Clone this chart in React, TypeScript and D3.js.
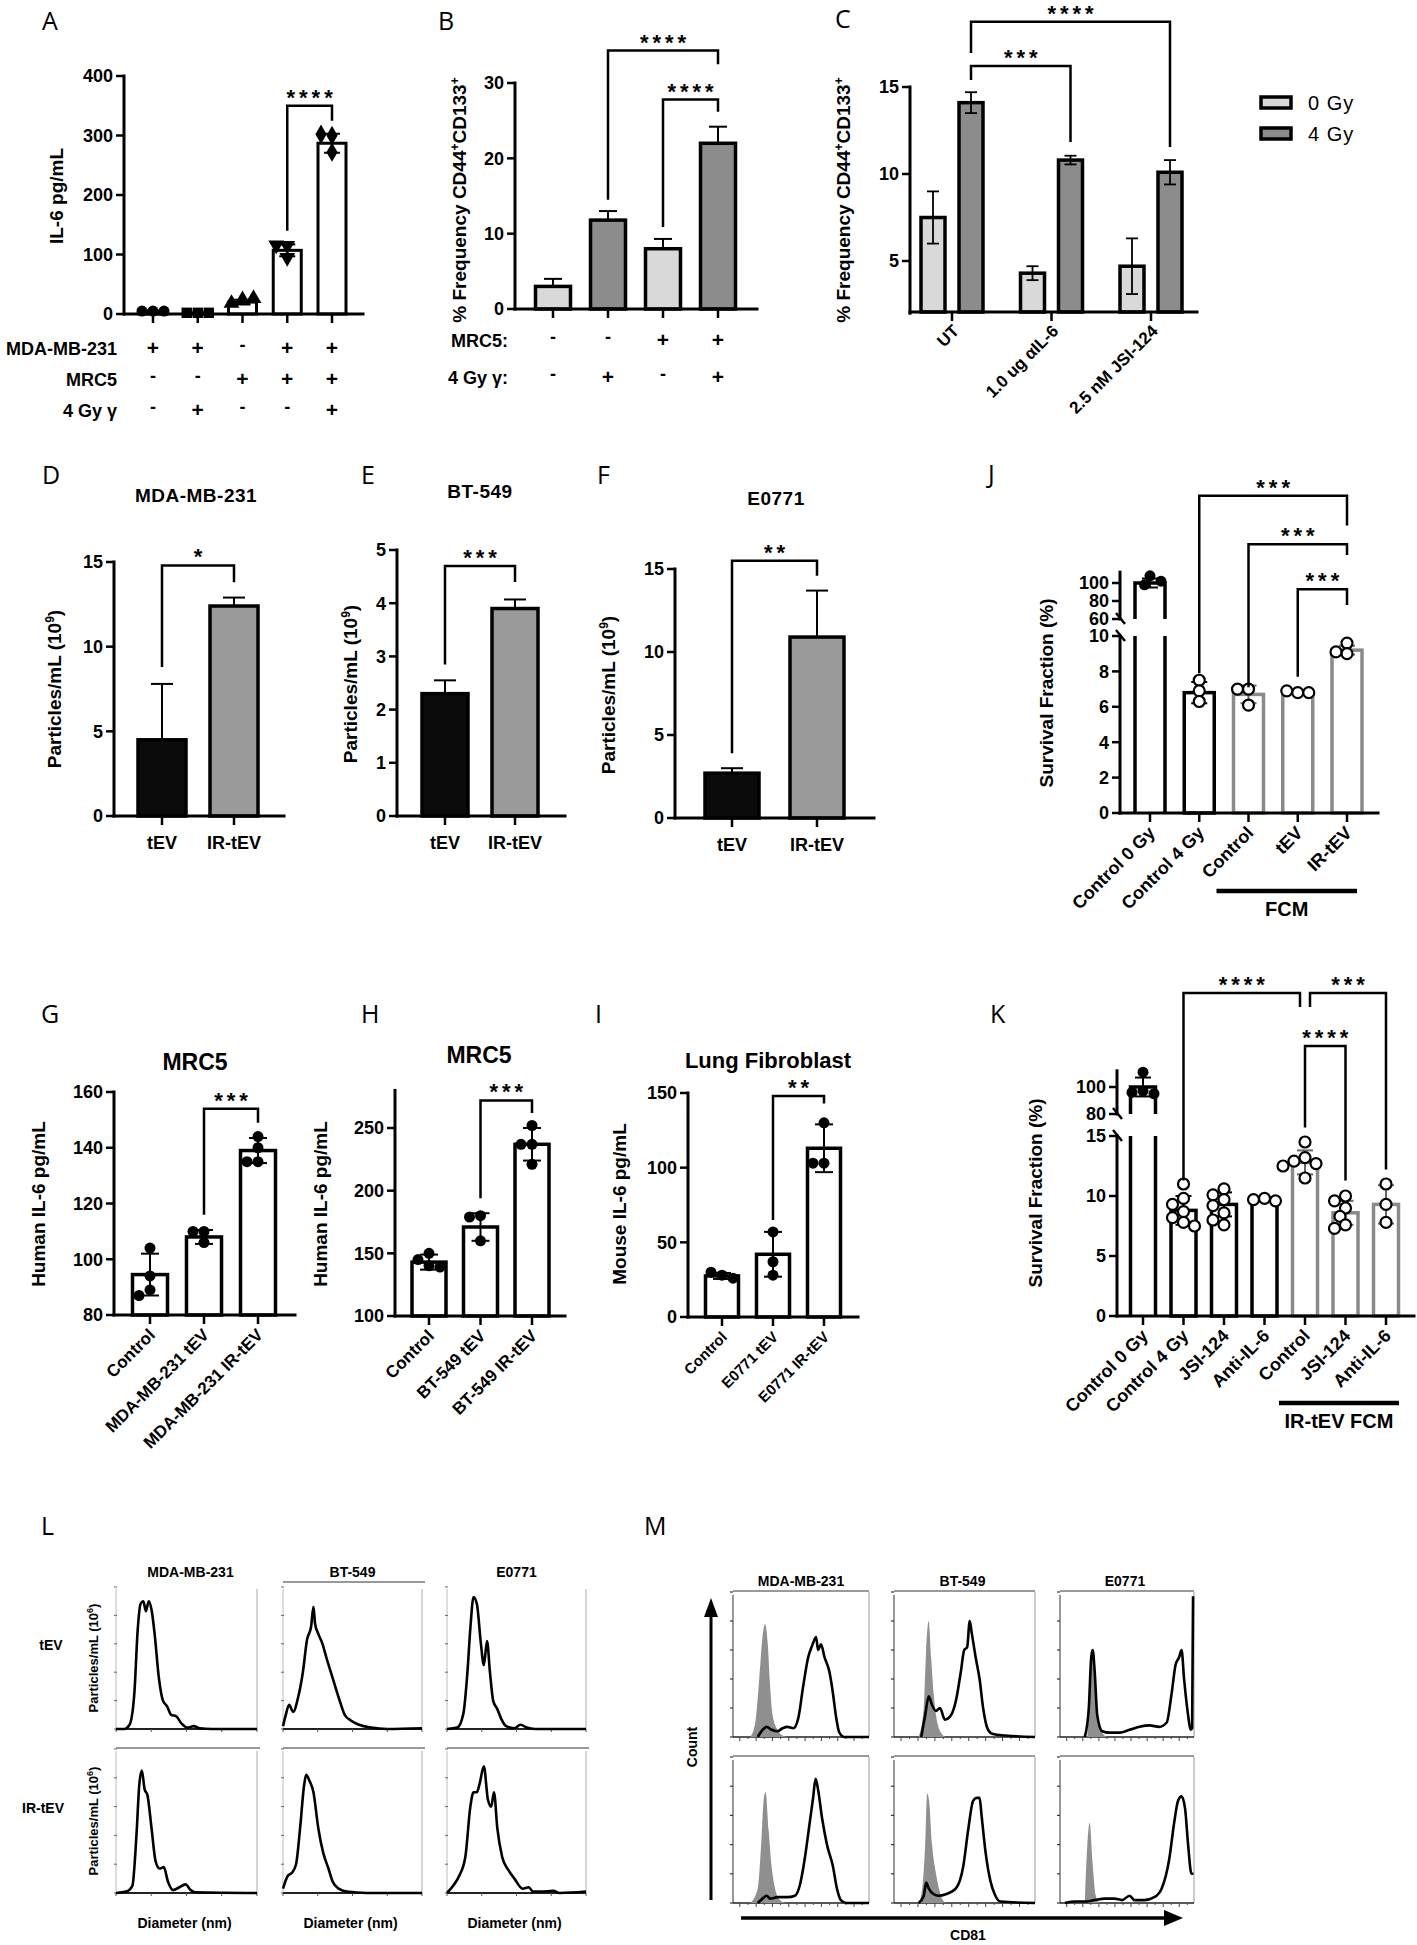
import React from "react";
import * as d3 from "d3";

const W = 1417, H = 1945;
const FONT = "'Liberation Sans', Arial, Helvetica, sans-serif";
const LETTER_FONT = "'Open Sans', 'Noto Sans', sans-serif";
const LIGHT = "#d9d9d9";
const DARK = "#8c8c8c";
const EV_BLACK = "#0b0b0b";
const EV_GREY = "#9a9a9a";
const EDGE_GREY = "#8a8a8a";

// ---------- A: IL-6 ----------
const A_MEANS = [5, 2, 20, 107, 287];
const A_SD = [0, 0, 4, 10, 16];
const A_POINTS = [[5, 5, 5], [2, 2, 2], [24, 18, 26], [115, 95, 116], [300, 272, 302]];
const A_SHAPES = ["circle", "square", "triangle", "triangleDown", "diamond"];
const A_TICKS = [0, 100, 200, 300, 400];
const A_ROW_LABELS = ["MDA-MB-231", "MRC5", "4 Gy γ"];
const A_SIGNS = [["+", "+", "-", "+", "+"], ["-", "-", "+", "+", "+"], ["-", "+", "-", "-", "+"]];
const A_BRACKET = { a: 3, b: 4, y: 350, l: 140, r: 325, label: "****" };

// ---------- B: CD44+CD133+ with MRC5 ----------
const B_MEANS = [3, 11.8, 8, 22];
const B_SD = [1, 1.2, 1.3, 2.2];
const B_DOSE = ["0 Gy", "4 Gy", "0 Gy", "4 Gy"];
const B_TICKS = [0, 10, 20, 30];
const B_ROW_LABELS = ["MRC5:", "4 Gy γ:"];
const B_SIGNS = [["-", "-", "+", "+"], ["-", "+", "-", "+"]];
const B_BRACKETS = [
  { a: 1, b: 3, y: 34.3, l: 14.5, r: 32.5, label: "****" },
  { a: 2, b: 3, y: 27.8, l: 10.9, r: 26.2, label: "****" },
];

// ---------- C: inhibitors ----------
const C_GROUPS = ["UT", "1.0 ug αIL-6", "2.5 nM JSI-124"];
const C_DOSES = ["0 Gy", "4 Gy"];
const C_MEANS = { "0 Gy": [7.5, 4.3, 4.7], "4 Gy": [14.1, 10.8, 10.1] };
const C_SD = { "0 Gy": [1.5, 0.4, 1.6], "4 Gy": [0.6, 0.25, 0.7] };
const C_TICKS = [5, 10, 15];
const C_BRACKETS = [
  { a: 0, b: 1, y: 16.2, l: 15.4, r: 11.84, label: "***" },
  { a: 0, b: 2, y: 18.75, l: 16.95, r: 11.55, label: "****" },
];

// ---------- D/E/F: particle counts ----------
const EV_GROUPS = ["tEV", "IR-tEV"];
const D_MEANS = [4.5, 12.4];
const D_SD = [3.3, 0.5];
const D_TICKS = [0, 5, 10, 15];
const D_BRACKET = { y: 14.8, l: 8.8, r: 13.8, label: "*" };
const E_MEANS = [2.3, 3.9];
const E_SD = [0.25, 0.17];
const E_TICKS = [0, 1, 2, 3, 4, 5];
const E_BRACKET = { y: 4.7, l: 2.85, r: 4.4, label: "***" };
const F_MEANS = [2.7, 10.9];
const F_SD = [0.3, 2.8];
const F_TICKS = [0, 5, 10, 15];
const F_BRACKET = { y: 15.5, l: 3.9, r: 14.6, label: "**" };

// ---------- G/H/I: fibroblast IL-6 ----------
const G_CATS = ["Control", "MDA-MB-231 tEV", "MDA-MB-231 IR-tEV"];
const G_MEANS = [94.5, 108, 139];
const G_SD = [7.5, 2.5, 4.5];
const G_POINTS = [[104, 94, 89, 87], [110, 110, 106], [144, 140, 135, 135]];
const G_TICKS = [80, 100, 120, 140, 160];
const G_BRACKET = { a: 1, b: 2, y: 154, l: 116, r: 149, label: "***" };

const H_CATS = ["Control", "BT-549 tEV", "BT-549 IR-tEV"];
const H_MEANS = [143, 171, 237];
const H_SD = [6, 11, 13];
const H_POINTS = [[150, 145, 140, 139], [180, 179, 160], [252, 237, 237, 221]];
const H_TICKS = [100, 150, 200, 250];
const H_BRACKET = { a: 1, b: 2, y: 272, l: 194, r: 262, label: "***" };

const I_CATS = ["Control", "E0771 tEV", "E0771 IR-tEV"];
const I_MEANS = [27.5, 42, 113];
const I_SD = [2, 15, 16];
const I_POINTS = [[28, 30, 26], [57, 37, 28], [130, 103, 103]];
const I_TICKS = [0, 50, 100, 150];
const I_BRACKET = { a: 1, b: 2, y: 148, l: 65, r: 143, label: "**" };

// ---------- J/K: survival fraction ----------
const J_CATS = ["Control 0 Gy", "Control 4 Gy", "Control", "tEV", "IR-tEV"];
const J_MEANS = [100, 6.8, 6.7, 6.85, 9.2];
const J_SD = [5, 0.6, 0.5, 0.1, 0.25];
const J_POINTS = [[108, 98, 102], [7.5, 6.9, 6.3], [7.0, 7.0, 6.1], [6.8, 6.9, 6.8], [9.6, 9.0, 9.1]];
const J_FCM = [false, false, true, true, true];
const J_LOW_TICKS = [0, 2, 4, 6, 8, 10];
const J_UP_TICKS = [60, 80, 100];
const J_BRACKETS = [
  { a: 1, b: 4, y: 197, l: 7.9, r: 164, label: "***" },
  { a: 2, b: 4, y: 143, l: 7.1, r: 131, label: "***" },
  { a: 3, b: 4, y: 93, l: 7.7, r: 75.6, label: "***" },
];

const K_CATS = ["Control 0 Gy", "Control 4 Gy", "JSI-124", "Anti-IL-6", "Control", "JSI-124", "Anti-IL-6"];
const K_MEANS = [100, 8.8, 9.3, 9.7, 12.8, 8.6, 9.3];
const K_SD = [7, 1.2, 1.0, 0.15, 1.0, 1.0, 1.6];
const K_POINTS = [
  [111, 97, 96, 95],
  [11, 9.8, 9.3, 8.7, 8.2, 7.8, 7.5],
  [10.6, 10.1, 9.7, 9.2, 8.6, 8.0, 7.6],
  [9.8, 9.7, 9.6],
  [14.5, 13.2, 12.9, 12.7, 12.5, 11.5],
  [10.0, 9.6, 9.0, 8.3, 7.6, 7.3],
  [11.0, 9.3, 7.8],
];
const K_FCM = [false, false, false, false, true, true, true];
const K_LOW_TICKS = [0, 5, 10, 15];
const K_UP_TICKS = [80, 100];
const K_BRACKETS = [
  { a: 1, b: 4, y: 169.6, l: 11.3, r: 159.3, label: "****" },
  { a: 4, b: 6, y: 169.6, l: 159.3, r: 12.2, label: "***" },
  { a: 4, b: 5, y: 130.4, l: 15.7, r: 11.3, label: "****" },
];

// ---------- L: NTA size distributions (diameter nm, relative count) ----------
const L_LINES = ["MDA-MB-231", "BT-549", "E0771"];
const L_MDA_TEV = [[0, 0], [58, 0], [96, 3], [130, 25], [154, 70], [174, 88], [194, 90], [212, 83], [232, 90], [252, 84], [275, 66], [304, 36], [333, 20], [362, 16], [391, 10], [426, 9], [464, 4], [507, 1], [551, 2], [594, 0.5], [681, 0], [1000, 0]];
const L_BT_TEV = [[0, 2], [20, 10], [44, 17], [73, 12], [108, 22], [143, 40], [173, 63], [202, 72], [219, 86], [231, 74], [254, 67], [284, 60], [313, 50], [357, 36], [401, 22], [444, 10], [488, 6], [547, 3], [635, 1], [751, 0], [1000, 0.5]];
const L_E_TEV = [[0, 0], [74, 1], [118, 11], [147, 40], [168, 71], [191, 93], [215, 88], [244, 60], [265, 45], [288, 62], [309, 40], [332, 20], [362, 14], [391, 7], [426, 2], [485, 0.5], [529, 3], [574, 1], [632, 0], [1000, 0]];
const L_MDA_IR = [[0, 0], [72, 1], [116, 5], [145, 40], [165, 75], [183, 85], [203, 72], [223, 68], [252, 45], [281, 22], [310, 17], [339, 18], [368, 8], [406, 2], [449, 4], [493, 6], [530, 2], [565, 0.5], [1000, 0]];
const L_BT_IR = [[0, 3], [35, 12], [64, 14], [94, 20], [123, 45], [152, 75], [167, 82], [190, 78], [219, 70], [254, 45], [289, 28], [327, 17], [357, 8], [401, 3], [459, 1], [605, 0], [1000, 0]];
const L_E_IR = [[0, 0], [44, 5], [88, 12], [132, 25], [168, 60], [191, 70], [215, 70], [235, 76], [265, 88], [294, 65], [318, 60], [338, 70], [362, 45], [397, 25], [441, 16], [485, 10], [544, 3], [588, 4], [618, 1], [676, 1], [765, 1.5], [809, 0], [1000, 1]];

// ---------- M: CD81 flow histograms (% of axis, % of max) ----------
const M_MDA_TEV_ISO = [[12.7, 0], [16.4, 10], [19.3, 40], [21.8, 70], [23.6, 78], [25.5, 65], [27.3, 35], [29.1, 15], [32.7, 5], [36.4, 1], [40, 0]];
const M_MDA_TEV = [[18.2, 0], [21.8, 5], [24.7, 7], [28.4, 5], [32.7, 4], [36.4, 6], [40, 7], [44.4, 6], [48, 13], [51.6, 35], [55.3, 55], [58.2, 63], [61.1, 69], [62.5, 60], [64.7, 64], [67.3, 55], [70.9, 45], [73.5, 30], [75.6, 15], [78.2, 3], [81.8, 0], [100, 0]];
const M_BT_TEV_ISO = [[17.5, 0], [21.1, 20], [22.8, 60], [24.6, 80], [26.3, 55], [28.1, 30], [29.8, 15], [33.3, 3], [36.8, 0]];
const M_BT_TEV = [[19.3, 0], [22.1, 15], [24.6, 28], [27, 22], [29.8, 18], [32.6, 20], [36.1, 12], [40.4, 15], [43.9, 25], [47.4, 45], [49.8, 60], [51.9, 62], [53.7, 80], [55.1, 72], [57.9, 55], [60.7, 40], [63.2, 20], [66.7, 5], [70.2, 2], [78.9, 1], [100, 0]];
const M_E_TEV_ISO = [[20.4, 0], [22.2, 30], [24.1, 55], [25.2, 58], [26.7, 30], [28.9, 10], [31.5, 3], [35.2, 0]];
const M_E_TEV = [[18.5, 0], [21.5, 20], [23.3, 55], [24.4, 60], [25.9, 45], [27.8, 15], [31.5, 4], [37, 3], [44.4, 3], [51.9, 5], [59.3, 7], [66.7, 8], [74.1, 7], [79.6, 10], [83.3, 30], [86.3, 50], [88.9, 55], [90.7, 60], [92.6, 40], [95.6, 15], [97.4, 5], [98.6, 6], [99.3, 97]];
const M_MDA_IR_ISO = [[12.7, 0], [18.2, 10], [20.7, 40], [22.5, 70], [24, 76], [26.2, 50], [28.4, 25], [30.9, 10], [34.5, 2], [38.2, 0]];
const M_MDA_IR = [[18.2, 0], [21.8, 3], [24.7, 5], [27.3, 3], [32.7, 4], [40, 4], [45.5, 5], [49.1, 12], [52.7, 30], [56.4, 55], [58.9, 72], [60.7, 85], [62.5, 78], [65.5, 58], [69.1, 40], [73.5, 25], [76.4, 10], [79.3, 2], [83.6, 0], [100, 0]];
const M_BT_IR_ISO = [[17.5, 0], [20, 10], [22.1, 40], [23.5, 75], [24.9, 70], [27, 40], [29.8, 20], [33.3, 5], [36.8, 0]];
const M_BT_IR = [[17.5, 0], [21.1, 5], [22.8, 14], [24.6, 10], [28.1, 6], [31.6, 5], [36.8, 6], [43.9, 10], [49.1, 25], [52.6, 50], [56.1, 70], [58.6, 72], [60.7, 72], [62.1, 60], [64.9, 35], [68.4, 15], [71.9, 5], [75.4, 1], [100, 0]];
const M_E_IR_ISO = [[18.5, 0], [20.4, 40], [22.2, 55], [24.1, 30], [26.7, 5], [29.6, 0]];
const M_E_IR = [[3.7, 0], [11.1, 1], [18.5, 1], [25.9, 2], [33.3, 3], [40.7, 3], [46.3, 2], [51.9, 5], [55.6, 2], [63, 2], [70.4, 4], [75.9, 10], [81.5, 30], [85.2, 55], [88.1, 70], [90.7, 73], [93.3, 65], [95.6, 40], [98.1, 20], [99.6, 20]];

// ================= helpers =================
function swarm(py: number[], r: number): number[] {
  const placed: number[][] = [];
  return py.map((yy) => {
    for (let k = 0; k < 16; k++) {
      const dx = k === 0 ? 0 : (k % 2 ? -1 : 1) * Math.ceil(k / 2) * r;
      if (placed.every((p) => Math.hypot(p[0] - dx, p[1] - yy) >= 1.8 * r)) {
        placed.push([dx, yy]);
        return dx;
      }
    }
    return 0;
  });
}

const bold = { fontFamily: FONT, fontWeight: "bold" as const };

function Letter({ x, y, t }: any) {
  return <text x={x} y={y} fontSize={25} fontFamily={LETTER_FONT} fontWeight={400}>{t}</text>;
}

function YAxis({ x, y, ticks, from, to, fs = 18, tl = 8 }: any) {
  return (
    <g>
      <line x1={x} x2={x} y1={y(from)} y2={y(to)} stroke="#000" strokeWidth={3} strokeLinecap="square" />
      {ticks.map((t: number) => (
        <g key={t}>
          <line x1={x - tl} x2={x} y1={y(t)} y2={y(t)} stroke="#000" strokeWidth={2.5} />
          <text x={x - tl - 3} y={y(t)} dy="0.36em" textAnchor="end" fontSize={fs} {...bold}>{t}</text>
        </g>
      ))}
    </g>
  );
}

function XAxis({ x1, x2, y, ticks, tl = 9 }: any) {
  return (
    <g>
      <line x1={x1} x2={x2} y1={y} y2={y} stroke="#000" strokeWidth={3} strokeLinecap="square" />
      {ticks.map((t: number, i: number) => (
        <line key={i} x1={t} x2={t} y1={y} y2={y + tl} stroke="#000" strokeWidth={2.5} />
      ))}
    </g>
  );
}

function Bar({ cx, w, y0, y1, fill, stroke = "#000", sw = 3 }: any) {
  return <rect x={cx - w / 2} y={Math.min(y0, y1)} width={w} height={Math.abs(y0 - y1)} fill={fill} stroke={stroke} strokeWidth={sw} />;
}

function ErrorBar({ cx, yLo, yHi, cap = 14, sw = 2, lowCap = true, stroke = "#000" }: any) {
  return (
    <g stroke={stroke} strokeWidth={sw}>
      <line x1={cx} x2={cx} y1={yLo} y2={yHi} />
      <line x1={cx - cap / 2} x2={cx + cap / 2} y1={yHi} y2={yHi} />
      {lowCap && <line x1={cx - cap / 2} x2={cx + cap / 2} y1={yLo} y2={yLo} />}
    </g>
  );
}

function Dots({ cx, values, y, r = 5, shape = "circle", filled = true }: any) {
  const py = values.map((v: number) => y(v));
  const dx = swarm(py, r);
  const symType: any = {
    square: d3.symbolSquare, triangle: d3.symbolTriangle, triangleDown: d3.symbolTriangle, diamond: d3.symbolDiamond,
  }[shape as string];
  return (
    <g>
      {py.map((yy: number, i: number) => {
        if (shape === "circle")
          return <circle key={i} cx={cx + dx[i]} cy={yy} r={r} fill={filled ? "#000" : "#fff"} stroke="#000" strokeWidth={filled ? 0 : 2.2} />;
        const path = d3.symbol().type(symType).size(r * r * 3.6)() as string;
        const rot = shape === "triangleDown" ? 180 : 0;
        return <path key={i} d={path} transform={`translate(${cx + dx[i]},${yy}) rotate(${rot})`} fill="#000" />;
      })}
    </g>
  );
}

function Bracket({ x1, x2, y, yl, yr, label, fs = 22 }: any) {
  return (
    <g>
      <path d={`M${x1},${yl}V${y}H${x2}V${yr}`} fill="none" stroke="#000" strokeWidth={2.5} />
      <text x={(x1 + x2) / 2 + 2} y={y - 1} textAnchor="middle" fontSize={fs} letterSpacing={4} {...bold}>{label}</text>
    </g>
  );
}

function RotLabel({ x, y, text, fs = 17 }: any) {
  return (
    <text transform={`translate(${x},${y}) rotate(-45)`} textAnchor="end" fontSize={fs} {...bold}>{text}</text>
  );
}

function VLabel({ x, y, fs = 19, children }: any) {
  return (
    <text transform={`translate(${x},${y}) rotate(-90)`} textAnchor="middle" fontSize={fs} {...bold}>{children}</text>
  );
}

const Sup = ({ c, fs = 12 }: any) => <tspan baselineShift="super" fontSize={fs}>{c}</tspan>;

// ================= panels =================
function PanelA() {
  const x = d3.scalePoint<number>().domain(d3.range(A_MEANS.length)).range([153, 332]);
  const y = d3.scaleLinear().domain([0, 400]).range([314, 76]);
  const base = y(0);
  const xs = A_MEANS.map((_, i) => x(i) as number);
  const b = A_BRACKET;
  return (
    <g>
      <Letter x={42} y={30} t="A" />
      <VLabel x={63} y={196}>IL-6 pg/mL</VLabel>
      {A_MEANS.map((m, i) => <Bar key={i} cx={xs[i]} w={28} y0={base} y1={y(m)} fill="#fff" />)}
      <YAxis x={124} y={y} ticks={A_TICKS} from={0} to={400} />
      <XAxis x1={124} x2={363} y={base} ticks={xs} />
      {A_MEANS.map((m, i) =>
        A_SD[i] > 0 ? <ErrorBar key={i} cx={xs[i]} yLo={y(m - A_SD[i])} yHi={y(m + A_SD[i])} cap={16} /> : null
      )}
      {A_POINTS.map((p, i) => <Dots key={i} cx={xs[i]} values={p} y={y} r={5.5} shape={A_SHAPES[i]} />)}
      <Bracket x1={xs[b.a]} x2={xs[b.b]} y={y(b.y)} yl={y(b.l)} yr={y(b.r)} label={b.label} />
      {A_ROW_LABELS.map((lab, r) => (
        <g key={lab}>
          <text x={117} y={355 + r * 31} textAnchor="end" fontSize={18} {...bold}>{lab}</text>
          {A_SIGNS[r].map((s, i) => (
            <text key={i} x={xs[i]} y={355 + r * 31 - (s === "-" ? 4 : 0)} textAnchor="middle" fontSize={s === "-" ? 18 : 21} {...bold}>{s}</text>
          ))}
        </g>
      ))}
    </g>
  );
}

function PanelB() {
  const x = d3.scalePoint<number>().domain(d3.range(B_MEANS.length)).range([553, 718]);
  const y = d3.scaleLinear().domain([0, 30]).range([309, 83]);
  const fill = d3.scaleOrdinal<string, string>().domain(["0 Gy", "4 Gy"]).range([LIGHT, DARK]);
  const xs = B_MEANS.map((_, i) => x(i) as number);
  const base = y(0);
  return (
    <g>
      <Letter x={438} y={30} t="B" />
      <VLabel x={466} y={200} fs={19}>
        % Frequency CD44<Sup c="+" />CD133<Sup c="+" />
      </VLabel>
      {B_MEANS.map((m, i) => (
        <g key={i}>
          <ErrorBar cx={xs[i]} yLo={y(m)} yHi={y(m + B_SD[i])} cap={18} lowCap={false} />
          <Bar cx={xs[i]} w={35} y0={base} y1={y(m)} fill={fill(B_DOSE[i])} sw={3.5} />
        </g>
      ))}
      <YAxis x={515} y={y} ticks={B_TICKS} from={0} to={30} />
      <XAxis x1={515} x2={757} y={base} ticks={xs} />
      {B_BRACKETS.map((b, i) => (
        <Bracket key={i} x1={xs[b.a]} x2={xs[b.b]} y={y(b.y)} yl={y(b.l)} yr={y(b.r)} label={b.label} />
      ))}
      {B_ROW_LABELS.map((lab, r) => (
        <g key={lab}>
          <text x={508} y={347 + r * 37} textAnchor="end" fontSize={18} {...bold}>{lab}</text>
          {B_SIGNS[r].map((s, i) => (
            <text key={i} x={xs[i]} y={347 + r * 37 - (s === "-" ? 4 : 0)} textAnchor="middle" fontSize={s === "-" ? 18 : 21} {...bold}>{s}</text>
          ))}
        </g>
      ))}
    </g>
  );
}

function PanelC() {
  const gx = d3.scalePoint<string>().domain(C_GROUPS).range([952, 1151]);
  const inner = d3.scalePoint<string>().domain(C_DOSES).range([-19, 19]);
  const fill = d3.scaleOrdinal<string, string>().domain(C_DOSES).range([LIGHT, DARK]);
  const y = d3.scaleLinear().domain([2, 15]).range([313.2, 87]);
  const base = 312;
  const bx = (g: number, d: string) => (gx(C_GROUPS[g]) as number) + (inner(d) as number);
  return (
    <g>
      <Letter x={835} y={28} t="C" />
      <VLabel x={850} y={200} fs={19}>
        % Frequency CD44<Sup c="+" />CD133<Sup c="+" />
      </VLabel>
      {C_DOSES.map((d) =>
        C_GROUPS.map((g, i) => {
          const m = (C_MEANS as any)[d][i];
          const s = (C_SD as any)[d][i];
          return (
            <g key={d + g}>
              <Bar cx={bx(i, d)} w={24} y0={base} y1={y(m)} fill={fill(d)} sw={3.5} />
              <ErrorBar cx={bx(i, d)} yLo={y(m - s)} yHi={y(m + s)} cap={12} sw={1.8} />
            </g>
          );
        })
      )}
      <YAxis x={910} y={y} ticks={C_TICKS} from={2} to={15} />
      <XAxis x1={910} x2={1197} y={base} ticks={C_GROUPS.map((g) => gx(g) as number)} />
      {C_BRACKETS.map((b, i) => (
        <Bracket key={i} x1={bx(b.a, "4 Gy")} x2={bx(b.b, "4 Gy")} y={y(b.y)} yl={y(b.l)} yr={y(b.r)} label={b.label} />
      ))}
      {C_GROUPS.map((g) => (
        <RotLabel key={g} x={(gx(g) as number) + 8} y={332} text={g} fs={17} />
      ))}
      {C_DOSES.map((d, i) => (
        <g key={d}>
          <rect x={1261} y={97 + i * 31} width={30} height={11} fill={fill(d)} stroke="#000" strokeWidth={3.5} />
          <text x={1308} y={110 + i * 31} fontSize={20} fontFamily={FONT} letterSpacing={1}>{d}</text>
        </g>
      ))}
    </g>
  );
}

function EVPanel({ letter, lx, title, tx, ty, ax, aEnd, yMax, base, top, ticks, centers, bw, means, sd, br, ylx, yly }: any) {
  const x = d3.scalePoint<string>().domain(EV_GROUPS).range(centers);
  const y = d3.scaleLinear().domain([0, yMax]).range([base, top]);
  const fill = d3.scaleOrdinal<string, string>().domain(EV_GROUPS).range([EV_BLACK, EV_GREY]);
  const xs = EV_GROUPS.map((g) => x(g) as number);
  return (
    <g>
      <Letter x={lx} y={484} t={letter} />
      <text x={tx} y={ty} textAnchor="middle" fontSize={19} letterSpacing={0.5} {...bold}>{title}</text>
      <VLabel x={ylx} y={yly} fs={19}>
        Particles/mL (10<Sup c="9" />)
      </VLabel>
      {means.map((m: number, i: number) => (
        <g key={i}>
          <ErrorBar cx={xs[i]} yLo={y(m)} yHi={y(m + sd[i])} cap={22} lowCap={false} />
          <Bar cx={xs[i]} w={bw} y0={base} y1={y(m)} fill={fill(EV_GROUPS[i])} sw={3.5} />
        </g>
      ))}
      <YAxis x={ax} y={y} ticks={ticks} from={0} to={yMax} />
      <XAxis x1={ax} x2={aEnd} y={base} ticks={xs} />
      <Bracket x1={xs[0]} x2={xs[1]} y={y(br.y)} yl={y(br.l)} yr={y(br.r)} label={br.label} />
      {EV_GROUPS.map((g, i) => (
        <text key={g} x={xs[i]} y={base + 33} textAnchor="middle" fontSize={18} {...bold}>{g}</text>
      ))}
    </g>
  );
}

function IL6Panel({ letter, lx, title, tx, ty, tfs, ax, aEnd, dom, range, ticks, centers, bw, cats, means, sd, points, br, ylabel, ylx, lfs, lx0 = 6 }: any) {
  const x = d3.scalePoint<string>().domain(cats).range(centers);
  const y = d3.scaleLinear().domain(dom).range(range);
  const xs = cats.map((c: string) => x(c) as number);
  const base = y(dom[0]);
  return (
    <g>
      <Letter x={lx} y={1023} t={letter} />
      <text x={tx} y={ty} textAnchor="middle" fontSize={tfs} {...bold}>{title}</text>
      <VLabel x={ylx} y={1204} fs={19}>{ylabel}</VLabel>
      {means.map((m: number, i: number) => (
        <Bar key={i} cx={xs[i]} w={bw} y0={base} y1={y(m)} fill="#fff" sw={3.5} />
      ))}
      <YAxis x={ax} y={y} ticks={ticks} from={dom[0]} to={dom[1]} />
      <XAxis x1={ax} x2={aEnd} y={base} ticks={xs} />
      {means.map((m: number, i: number) => (
        <ErrorBar key={i} cx={xs[i]} yLo={y(m - sd[i])} yHi={y(m + sd[i])} cap={18} />
      ))}
      {points.map((p: number[], i: number) => <Dots key={i} cx={xs[i]} values={p} y={y} r={5.5} />)}
      <Bracket x1={xs[br.a]} x2={xs[br.b]} y={y(br.y)} yl={y(br.l)} yr={y(br.r)} label={br.label} />
      {cats.map((c: string, i: number) => (
        <RotLabel key={c} x={xs[i] + lx0} y={base + 21} text={c} fs={lfs} />
      ))}
    </g>
  );
}

function SurvivalPanel({ letter, lx, ax, aEnd, base, lowMax, lowTop, upMin, upBot, upMax, upTop, lowTicks, upTicks, centers, bw, cats, means, sd, points, fcm, brackets, nudges, ylx, yly, under }: any) {
  const lower = d3.scaleLinear().domain([0, lowMax]).range([base, lowTop]);
  const upper = d3.scaleLinear().domain([upMin, upMax]).range([upBot, upTop]);
  const y = (v: number) => (v > lowMax && v >= upMin ? upper(v) : lower(v));
  const x = d3.scalePoint<number>().domain(d3.range(cats.length)).range(centers);
  const xs = cats.map((_: string, i: number) => x(i) as number);
  const edge = (i: number) => (fcm[i] ? EDGE_GREY : "#000");
  const slash = (yy: number) => (
    <line x1={ax - 4} y1={yy - 6} x2={ax + 5} y2={yy + 5} stroke="#000" strokeWidth={2.5} />
  );
  return (
    <g>
      <Letter x={lx} y={letter === "J" ? 483 : 1023} t={letter} />
      <VLabel x={ylx} y={yly} fs={19}>Survival Fraction (%)</VLabel>
      {means.map((m: number, i: number) => {
        const l = xs[i] - bw / 2, r = xs[i] + bw / 2;
        if (m > lowMax) {
          return (
            <g key={i} fill="none" stroke={edge(i)} strokeWidth={3.5}>
              <path d={`M${l},${base}V${lower(lowMax)}M${r},${base}V${lower(lowMax)}`} />
              <path d={`M${l},${upper(upMin)}V${upper(m)}H${r}V${upper(upMin)}`} />
            </g>
          );
        }
        return <Bar key={i} cx={xs[i]} w={bw} y0={base} y1={y(m)} fill="#fff" stroke={edge(i)} sw={3.5} />;
      })}
      <YAxis x={ax} y={lower} ticks={lowTicks} from={0} to={lowMax} />
      <YAxis x={ax} y={upper} ticks={upTicks} from={upMin} to={upMax} />
      {slash(lower(lowMax))}
      {slash(upper(upMin))}
      <XAxis x1={ax} x2={aEnd} y={base} ticks={xs} />
      {means.map((m: number, i: number) => (
        <ErrorBar key={i} cx={xs[i]} yLo={y(m - sd[i])} yHi={y(m + sd[i])} cap={16} stroke={fcm[i] ? "#666" : "#000"} />
      ))}
      {points.map((p: number[], i: number) => (
        <Dots key={i} cx={xs[i]} values={p} y={y} r={5.5} filled={i === 0} />
      ))}
      {brackets.map((b: any, i: number) => (
        <Bracket key={i} x1={xs[b.a] + nudges[i][0]} x2={xs[b.b] + nudges[i][1]} y={y(b.y)} yl={y(b.l)} yr={y(b.r)} label={b.label} />
      ))}
      {cats.map((c: string, i: number) => (
        <RotLabel key={i} x={xs[i] + 6} y={base + 21} text={c} fs={18} />
      ))}
      <line x1={xs[under.from] + under.dx0} x2={xs[under.to] + under.dx1} y1={under.y} y2={under.y} stroke="#000" strokeWidth={4.5} />
      <text x={(xs[under.from] + under.dx0 + xs[under.to] + under.dx1) / 2} y={under.y + 25} textAnchor="middle" fontSize={20} {...bold}>{under.label}</text>
    </g>
  );
}

function PanelL() {
  const cols = [[116, 257], [283, 422], [447, 586]];
  const rows = [[1587, 1729], [1749, 1893]];
  const curves = [[L_MDA_TEV, L_BT_TEV, L_E_TEV], [L_MDA_IR, L_BT_IR, L_E_IR]];
  const rowLabels = ["tEV", "IR-tEV"];
  return (
    <g>
      <Letter x={41} y={1535} t="L" />
      {L_LINES.map((t, c) => (
        <text key={t} x={(cols[c][0] + cols[c][1]) / 2 + (c === 0 ? 4 : 0)} y={1577} textAnchor="middle" fontSize={14} {...bold}>{t}</text>
      ))}
      {rows.map((rw, r) => (
        <g key={r}>
          <text x={r === 0 ? 51 : 43} y={(rw[0] + rw[1]) / 2 - 8} textAnchor="middle" fontSize={14} {...bold}>{rowLabels[r]}</text>
          <VLabel x={98} y={(rw[0] + rw[1]) / 2} fs={13}>
            Particles/mL (10<Sup c="6" fs={9} />)
          </VLabel>
          {cols.map((cl, c) => {
            const x = d3.scaleLinear().domain([0, 1000]).range(cl);
            const y = d3.scaleLinear().domain([0, 100]).range([rw[1], rw[0]]);
            const line = d3.line<number[]>().x((d) => x(d[0])).y((d) => y(d[1])).curve(d3.curveMonotoneX);
            const showTop = r === 1 || c === 1;
            return (
              <g key={c}>
                {showTop && <line x1={cl[0]} x2={cl[1] + 3} y1={rw[0] - (r === 0 ? 5 : 1)} y2={rw[0] - (r === 0 ? 5 : 1)} stroke="#777" strokeWidth={1.6} />}
                <line x1={cl[1]} x2={cl[1]} y1={rw[0] + 2} y2={rw[1]} stroke="#aaa" strokeWidth={1} />
                <line x1={cl[0]} x2={cl[0]} y1={rw[0] + 2} y2={rw[1]} stroke="#bbb" strokeWidth={1} />
                {d3.range(0, 101, 20).map((v) => (
                  <line key={v} x1={cl[0] - 2} x2={cl[0] + 1} y1={y(v)} y2={y(v)} stroke="#666" strokeWidth={1} />
                ))}
                <line x1={cl[0]} x2={cl[1]} y1={rw[1]} y2={rw[1]} stroke="#222" strokeWidth={1.8} />
                {d3.range(0, 1001, 250).map((v) => (
                  <line key={v} x1={x(v)} x2={x(v)} y1={rw[1]} y2={rw[1] + 3} stroke="#555" strokeWidth={1} />
                ))}
                <path d={line(curves[r][c] as any) as string} fill="none" stroke="#000" strokeWidth={2.6} strokeLinejoin="round" />
              </g>
            );
          })}
        </g>
      ))}
      {cols.map((cl, c) => (
        <text key={c} x={(cl[0] + cl[1]) / 2 - 2} y={1928} textAnchor="middle" fontSize={14} {...bold}>Diameter (nm)</text>
      ))}
    </g>
  );
}

function PanelM() {
  const cols = [[733, 869], [894, 1035], [1060, 1194]];
  const rows = [[1592, 1737], [1757, 1903]];
  const iso = [[M_MDA_TEV_ISO, M_BT_TEV_ISO, M_E_TEV_ISO], [M_MDA_IR_ISO, M_BT_IR_ISO, M_E_IR_ISO]];
  const pos = [[M_MDA_TEV, M_BT_TEV, M_E_TEV], [M_MDA_IR, M_BT_IR, M_E_IR]];
  return (
    <g>
      <Letter x={644} y={1535} t="M" />
      {L_LINES.map((t, c) => (
        <text key={t} x={(cols[c][0] + cols[c][1]) / 2 + (c === 0 ? 0 : -2)} y={1586} textAnchor="middle" fontSize={14} {...bold}>{t}</text>
      ))}
      {rows.map((rw, r) =>
        cols.map((cl, c) => {
          const x = d3.scaleLinear().domain([0, 100]).range(cl);
          const y = d3.scaleLinear().domain([0, 100]).range([rw[1], rw[0]]);
          const line = d3.line<number[]>().x((d) => x(d[0])).y((d) => y(d[1])).curve(d3.curveMonotoneX);
          const area = d3.area<number[]>().x((d) => x(d[0])).y0(y(0)).y1((d) => y(d[1])).curve(d3.curveMonotoneX);
          return (
            <g key={`${r}-${c}`}>
              <line x1={cl[0]} x2={cl[1]} y1={rw[0] - 1} y2={rw[0] - 1} stroke="#777" strokeWidth={1.6} />
              <line x1={cl[1]} x2={cl[1]} y1={rw[0]} y2={rw[1]} stroke="#999" strokeWidth={1} />
              <line x1={cl[0]} x2={cl[0]} y1={rw[0] + 3} y2={rw[1]} stroke="#333" strokeWidth={1} />
              {d3.range(0, 101, 20).map((v) => (
                <line key={v} x1={cl[0] - 3} x2={cl[0]} y1={y(v)} y2={y(v)} stroke="#333" strokeWidth={1.2} />
              ))}
              <line x1={cl[0]} x2={cl[1]} y1={rw[1]} y2={rw[1]} stroke="#222" strokeWidth={1.4} />
              {d3.range(5, 100, 6).map((v) => (
                <line key={v} x1={x(v)} x2={x(v)} y1={rw[1]} y2={rw[1] + (v % 4 === 1 ? 4 : 2)} stroke="#444" strokeWidth={1} />
              ))}
              <path d={area(iso[r][c] as any) as string} fill="#8f8f8f" />
              <path d={line(pos[r][c] as any) as string} fill="none" stroke="#000" strokeWidth={2.6} strokeLinejoin="round" />
            </g>
          );
        })
      )}
      <line x1={711} x2={711} y1={1900} y2={1612} stroke="#000" strokeWidth={3} />
      <polygon points="711,1598 704,1617 718,1617" fill="#000" />
      <VLabel x={697} y={1747} fs={14}>Count</VLabel>
      <line x1={741} x2={1166} y1={1918} y2={1918} stroke="#000" strokeWidth={3.5} />
      <polygon points="1183,1918 1164,1910 1164,1926" fill="#000" />
      <text x={968} y={1940} textAnchor="middle" fontSize={14} {...bold}>CD81</text>
    </g>
  );
}

export default function App() {
  return (
    <svg width={W} height={H} viewBox={`0 0 ${W} ${H}`} style={{ position: "absolute", left: 0, top: 0, display: "block" }}>
      <rect width={W} height={H} fill="#fff" />
      <PanelA />
      <PanelB />
      <PanelC />
      <EVPanel letter="D" lx={42} title="MDA-MB-231" tx={196} ty={502} ax={114} aEnd={284} yMax={15} base={816} top={562}
        ticks={D_TICKS} centers={[162, 234]} bw={48} means={D_MEANS} sd={D_SD} br={D_BRACKET} ylx={61} yly={689} />
      <EVPanel letter="E" lx={361} title="BT-549" tx={480} ty={498} ax={397} aEnd={565} yMax={5} base={816} top={550}
        ticks={E_TICKS} centers={[445, 515]} bw={46} means={E_MEANS} sd={E_SD} br={E_BRACKET} ylx={357} yly={684} />
      <EVPanel letter="F" lx={597} title="E0771" tx={776} ty={505} ax={675} aEnd={874} yMax={15} base={818} top={569}
        ticks={F_TICKS} centers={[732, 817]} bw={54} means={F_MEANS} sd={F_SD} br={F_BRACKET} ylx={615} yly={695} />
      <SurvivalPanel letter="J" lx={988} ax={1120} aEnd={1378} base={813} lowMax={10} lowTop={636} upMin={60} upBot={619}
        upMax={112} upTop={572.2} lowTicks={J_LOW_TICKS} upTicks={J_UP_TICKS} centers={[1150, 1347]} bw={30}
        cats={J_CATS} means={J_MEANS} sd={J_SD} points={J_POINTS} fcm={J_FCM} brackets={J_BRACKETS}
        nudges={[[0, 0], [0, 0], [0, 0]]} ylx={1053} yly={693}
        under={{ from: 2, to: 4, dx0: -32, dx1: 10, y: 891, label: "FCM" }} />
      <IL6Panel letter="G" lx={41} title="MRC5" tx={195} ty={1070} tfs={23} ax={114} aEnd={295} dom={[80, 160]} range={[1315, 1092]}
        ticks={G_TICKS} centers={[150, 258]} bw={35} cats={G_CATS} means={G_MEANS} sd={G_SD} points={G_POINTS}
        br={G_BRACKET} ylabel="Human IL-6 pg/mL" ylx={45} lfs={17} />
      <IL6Panel letter="H" lx={361} title="MRC5" tx={479} ty={1063} tfs={23} ax={395} aEnd={565} dom={[100, 280]} range={[1316, 1090.4]}
        ticks={H_TICKS} centers={[429, 532]} bw={34} cats={H_CATS} means={H_MEANS} sd={H_SD} points={H_POINTS}
        br={H_BRACKET} ylabel="Human IL-6 pg/mL" ylx={327} lfs={17} />
      <IL6Panel letter="I" lx={595} title="Lung Fibroblast" tx={768} ty={1068} tfs={22} ax={688} aEnd={858} dom={[0, 150]} range={[1317, 1093]}
        ticks={I_TICKS} centers={[722, 824]} bw={33} cats={I_CATS} means={I_MEANS} sd={I_SD} points={I_POINTS}
        br={I_BRACKET} ylabel="Mouse IL-6 pg/mL" ylx={626} lfs={15} />
      <SurvivalPanel letter="K" lx={990} ax={1117} aEnd={1414} base={1316} lowMax={15} lowTop={1136} upMin={80} upBot={1114}
        upMax={112} upTop={1070.8} lowTicks={K_LOW_TICKS} upTicks={K_UP_TICKS} centers={[1143, 1386]} bw={25}
        cats={K_CATS} means={K_MEANS} sd={K_SD} points={K_POINTS} fcm={K_FCM} brackets={K_BRACKETS}
        nudges={[[0, -5], [5, 0], [0, 0]]} ylx={1042} yly={1193}
        under={{ from: 4, to: 6, dx0: -26, dx1: 13, y: 1403, label: "IR-tEV FCM" }} />
      <PanelL />
      <PanelM />
    </svg>
  );
}
